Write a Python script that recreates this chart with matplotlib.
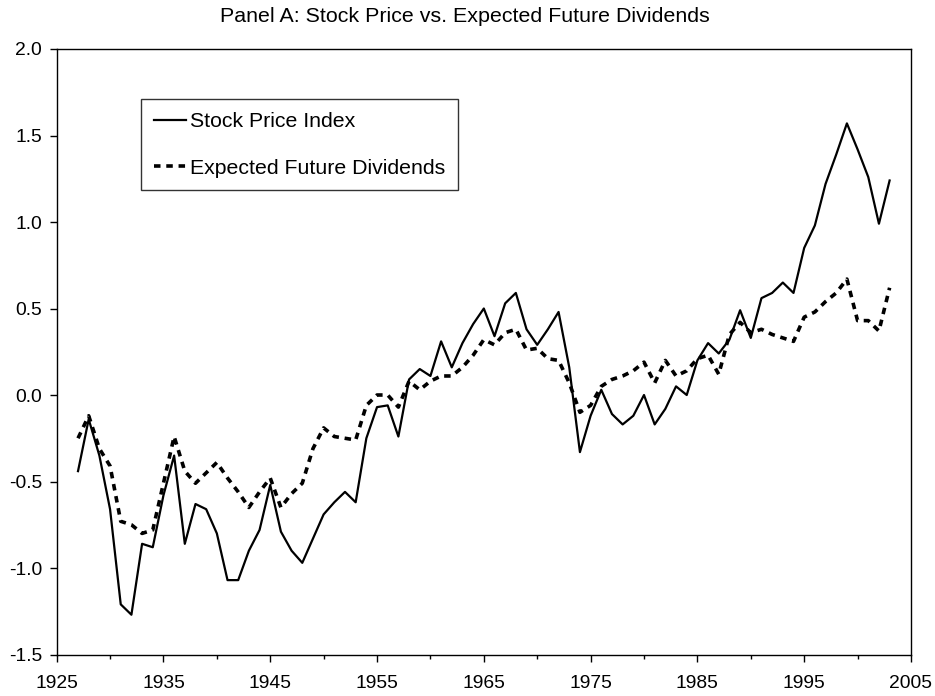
import numpy as np
import matplotlib
matplotlib.use("Agg")
import matplotlib.pyplot as plt
from matplotlib.ticker import MultipleLocator, FormatStrFormatter

plt.rcParams['font.family'] = ['Liberation Sans', 'DejaVu Sans']
plt.rcParams['axes.unicode_minus'] = False

years = np.arange(1927, 2004)

# log stock price index (detrended)
stock_price = [
    -0.44, -0.14, -0.35, -0.66, -1.21, -1.27, -0.86, -0.88, -0.58, -0.35,
    -0.86, -0.63, -0.66, -0.80, -1.07, -1.07, -0.90, -0.78, -0.52, -0.79,
    -0.90, -0.97, -0.83, -0.69, -0.62, -0.56, -0.62, -0.25, -0.07, -0.06,
    -0.24, 0.09, 0.15, 0.11, 0.31, 0.16, 0.30, 0.41, 0.50, 0.34,
    0.53, 0.59, 0.38, 0.29, 0.38, 0.48, 0.16, -0.33, -0.12, 0.03,
    -0.11, -0.17, -0.12, 0.00, -0.17, -0.08, 0.05, 0.00, 0.20, 0.30,
    0.24, 0.32, 0.49, 0.33, 0.56, 0.59, 0.65, 0.59, 0.85, 0.98,
    1.22, 1.39, 1.57, 1.42, 1.26, 0.99, 1.24,
]

# expected future dividends
exp_dividends = [
    -0.25, -0.12, -0.31, -0.41, -0.73, -0.75, -0.80, -0.78, -0.51, -0.24,
    -0.44, -0.51, -0.45, -0.39, -0.48, -0.56, -0.65, -0.56, -0.48, -0.65,
    -0.57, -0.51, -0.31, -0.19, -0.24, -0.25, -0.26, -0.06, 0.00, 0.00,
    -0.07, 0.08, 0.03, 0.08, 0.11, 0.11, 0.16, 0.23, 0.32, 0.29,
    0.36, 0.38, 0.26, 0.27, 0.21, 0.20, 0.07, -0.10, -0.06, 0.05,
    0.09, 0.11, 0.14, 0.19, 0.07, 0.20, 0.11, 0.14, 0.21, 0.23,
    0.12, 0.35, 0.42, 0.36, 0.38, 0.35, 0.33, 0.31, 0.45, 0.48,
    0.54, 0.59, 0.67, 0.43, 0.43, 0.37, 0.62,
]

x_ticks = np.arange(1925, 2006, 10)
x_minor = np.arange(1930, 2005, 10)

fig = plt.figure(figsize=(9.35, 6.96), dpi=100)
ax = fig.add_axes([0.0606, 0.0596, 0.9137, 0.8700])

ax.plot(years, stock_price, color='black', lw=1.6, label='Stock Price Index')
ax.plot(years, exp_dividends, color='black', lw=2.6, dashes=(1.8, 1.6),
        label='Expected Future Dividends')

ax.set_xlim(1925, 2005)
ax.set_ylim(-1.5, 2.0)
ax.set_xticks(x_ticks)
ax.set_xticks(x_minor, minor=True)
ax.yaxis.set_major_locator(MultipleLocator(0.5))
ax.yaxis.set_major_formatter(FormatStrFormatter('%.1f'))
ax.tick_params(axis='both', which='major', direction='out', length=5,
               width=1, labelsize=13.9)
ax.tick_params(axis='x', which='major', pad=9.5)
ax.tick_params(axis='y', which='major', pad=5.5)
ax.tick_params(axis='x', which='minor', direction='out', length=3, width=1)
for s in ax.spines.values():
    s.set_linewidth(1)

fig.text(0.497, 1 - 16 / 696, 'Panel A: Stock Price vs. Expected Future Dividends',
         fontsize=15.4, ha='center', va='center')

leg = ax.legend(loc='upper left', bbox_to_anchor=(0.0987, 0.917),
                fontsize=15.3, frameon=True, fancybox=False,
                edgecolor='black', borderaxespad=0, handlelength=1.5,
                handletextpad=0.22, labelspacing=1.3, borderpad=0.6)
leg.get_frame().set_linewidth(1)

fig.savefig('out.png', dpi=100)
